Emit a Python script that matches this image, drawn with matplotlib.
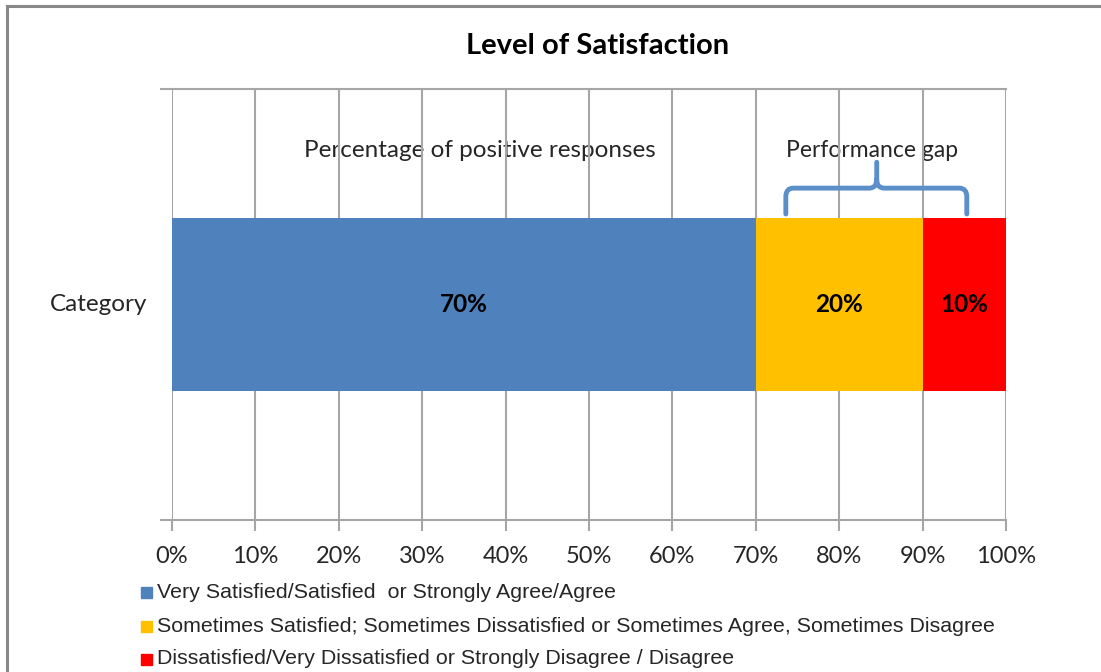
import matplotlib
matplotlib.use("Agg")
import matplotlib.pyplot as plt
from matplotlib.path import Path
from matplotlib.patches import PathPatch, Rectangle
from matplotlib.lines import Line2D

categories = ["Category"]
series_names = [
    "Very Satisfied/Satisfied  or Strongly Agree/Agree",
    "Sometimes Satisfied; Sometimes Dissatisfied or Sometimes Agree, Sometimes Disagree",
    "Dissatisfied/Very Dissatisfied or Strongly Disagree / Disagree",
]
values = [70, 20, 10]
colors = ["#4F81BD", "#FFC000", "#FF0000"]
xticks = list(range(0, 101, 10))
xtick_labels = [f"{t}%" for t in xticks]

W, H = 1101, 672
fig = plt.figure(figsize=(W / 100, H / 100), dpi=100)

def fx(px):
    return px / W

def fy(py):
    return 1 - py / H

ax = fig.add_axes([fx(172), fy(520), fx(1006) - fx(172), fy(89) - fy(520)])

grid_c = "#A6A6A6"
left = 0
for v, c in zip(values, colors):
    ax.barh(0, v, left=left, height=0.4, color=c, zorder=3)
    left += v

# bar labels
left = 0
for v in values:
    ax.text(left + v / 2, 0, f"{v}%", ha="center", va="center", fontsize=17.5,
            fontweight="bold", family="Lato", color="black", zorder=4)
    left += v

ax.set_xlim(0, 100)
ax.set_ylim(-0.5, 0.5)
ax.set_xticks(xticks)
ax.set_xticklabels(xtick_labels, fontsize=17, family="Lato", color="#262626")
ax.tick_params(axis="x", length=8, width=1.5, color=grid_c, pad=11)
ax.set_yticks([-0.5, 0.5])
ax.set_yticklabels([])
ax.tick_params(axis="y", length=9, width=1.5, color=grid_c)
ax.text(-3, 0, categories[0], ha="right", va="center", fontsize=17.5, family="Lato",
        color="#262626")
for xt in xticks:
    ax.axvline(xt, color=grid_c, lw=1.5, zorder=1)
for s in ["top", "bottom"]:
    ax.spines[s].set_color(grid_c)
    ax.spines[s].set_linewidth(1.5)
for s in ["left", "right"]:
    ax.spines[s].set_visible(False)

# annotations
ax.text(36.9, 0.357, "Percentage of positive responses", ha="center", va="center",
        fontsize=17.5, family="Lato", color="#262626", zorder=0.5)
ax.text(84.0, 0.357, "Performance gap", ha="center", va="center",
        fontsize=16.5, family="Lato", color="#262626", zorder=0.5)

# brace
bx0, bx1, bxm = 73.6, 95.3, 84.5
yb, yh, yt = 0.21, 0.27, 0.33
r = 0.9
ry = 0.02
verts = [
    (bx0, yb), (bx0, yh - ry), (bx0, yh), (bx0 + r, yh),
    (bxm - r, yh), (bxm, yh), (bxm, yh + ry),
    (bxm, yt),
    (bxm, yh + ry), (bxm, yh), (bxm + r, yh),
    (bx1 - r, yh), (bx1, yh), (bx1, yh - ry),
    (bx1, yb),
]
codes = [Path.MOVETO, Path.LINETO, Path.CURVE3, Path.CURVE3,
         Path.LINETO, Path.CURVE3, Path.CURVE3,
         Path.LINETO,
         Path.MOVETO, Path.CURVE3, Path.CURVE3,
         Path.LINETO, Path.CURVE3, Path.CURVE3,
         Path.LINETO]
ax.add_patch(PathPatch(Path(verts, codes), fill=False, edgecolor="#5B8FC9",
                       lw=3.5, capstyle="round", joinstyle="round", zorder=5))

# title
fig.text(fx(598), fy(46), "Level of Satisfaction", ha="center", va="center",
         fontsize=21, fontweight="bold", family="Lato", color="black")

# legend
ys = [592, 626, 659]
for name, c, yy in zip(series_names, colors, ys):
    fig.patches.append(Rectangle((fx(141), fy(yy + 6)), fx(11), 11 / H,
                                 transform=fig.transFigure, color=c))
    fig.text(fx(157), fy(yy), name, ha="left", va="center", fontsize=15.4,
             family="Liberation Sans", color="#262626")

# chart frame
fig.add_artist(Line2D([fx(7), fx(7)], [fy(6), 0], color="#888888", lw=2.2,
                      transform=fig.transFigure))
fig.add_artist(Line2D([fx(7), 1], [fy(6), fy(6)], color="#888888", lw=2.2,
                      transform=fig.transFigure))

fig.savefig("out.png", dpi=100, facecolor="white")
